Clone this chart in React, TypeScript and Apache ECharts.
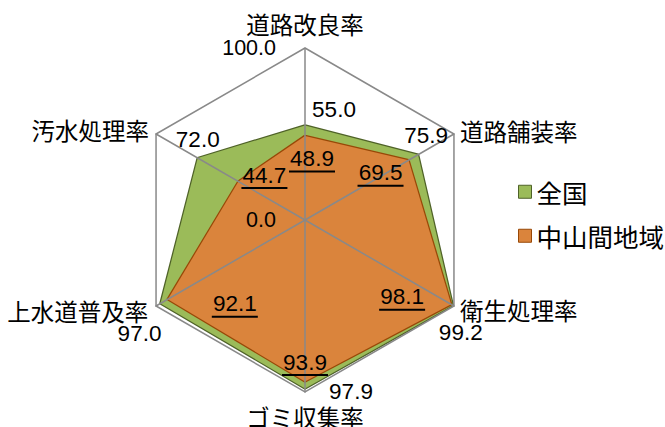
import React, { useEffect, useRef } from "react";
import * as echarts from "echarts";

// Indicators in ECharts order (top, then counter-clockwise)
const indicatorNames = ["道路改良率", "汚水処理率", "上水道普及率", "ゴミ収集率", "衛生処理率", "道路舗装率"];
const axisMin = 0;
const axisMax = 100;
const seriesNames = ["全国", "中山間地域"];
const nationalValues = [55.0, 72.0, 97.0, 97.9, 99.2, 75.9];
const mountainValues = [48.9, 44.7, 92.1, 93.9, 98.1, 69.5];

// label offsets (styling) per vertex
const nationalOffsets = [[29, -16], [0, -19], [-21, 30], [46, 3], [8, 27], [8, -19]];
const mountainOffsets = [[7, 24], [26, -5], [67, 6], [0, -18], [-49, -6], [-28, 14]];
// name placement (styling) per indicator
const nameGaps = [12.5, 8, 9, 13, 7, 7];
const namePaddings = [[0, 0, 0, 0], [0, 0, 8, 0], [10, 0, 0, 0], [0, 0, 0, 0], [4, 0, 0, 0], [0, 0, 8, 0]];

const NUM_FONT = "'Liberation Sans', Arial, sans-serif";
const CJK_FONT = "'Noto Sans CJK JP', 'Noto Sans', sans-serif";

const GREEN = "#9BBB59";
const GREEN_DARK = "#4F6228";
const ORANGE = "#DA843C";
const ORANGE_DARK = "#984807";

function areaData(values: number[], fill: string, stroke: string) {
  return [
    {
      value: values,
      symbol: "none",
      lineStyle: { color: stroke, width: 2.5 },
      areaStyle: { color: fill, opacity: 1 },
      itemStyle: { color: fill, borderColor: stroke },
      label: { show: false },
    },
  ];
}

function labelData(values: number[], offsets: number[][], underline: boolean) {
  return values.map((_, k) => ({
    value: values,
    symbol: "circle",
    symbolSize: 1,
    itemStyle: { color: "transparent", borderColor: "transparent" },
    lineStyle: { width: 0, opacity: 0 },
    label: {
      show: true,
      position: "inside",
      offset: offsets[k],
      color: "#000",
      fontFamily: NUM_FONT,
      fontSize: 22.5,
      formatter: (p: any) => {
        if (p.dimensionIndex !== k) return "";
        const t = Number(p.value).toFixed(1);
        return underline ? `{t|${t}}\n{u| }` : `{t|${t}}`;
      },
      rich: {
        t: { fontSize: 22.5, fontFamily: NUM_FONT, color: "#000", lineHeight: 23 },
        u: { width: 46, height: 2, lineHeight: 3, fontSize: 2, backgroundColor: "#000" },
      },
    },
  }));
}

export default function App() {
  const ref = useRef<HTMLDivElement>(null);
  useEffect(() => {
    if (!ref.current) return;
    const chart = echarts.init(ref.current, null, { renderer: "svg" });
    const option: any = {
      animation: false,
      backgroundColor: "#fff",
      legend: {
        orient: "vertical",
        left: 513,
        top: 174,
        itemWidth: 13,
        itemHeight: 13,
        itemGap: 18.5,
        icon: "rect",
        textStyle: { fontSize: 25.5, fontFamily: CJK_FONT, color: "#000" },
        data: [
          { name: seriesNames[0], itemStyle: { color: GREEN, borderColor: GREEN_DARK, borderWidth: 1 } },
          { name: seriesNames[1], itemStyle: { color: ORANGE, borderColor: ORANGE_DARK, borderWidth: 1 } },
        ],
      },
      radar: {
        z: 5,
        center: [305, 220],
        radius: 172,
        startAngle: 90,
        shape: "polygon",
        splitNumber: 1,
        nameGap: 10,
        axisName: { color: "#000", fontSize: 23.5, fontFamily: CJK_FONT },
        axisLine: { lineStyle: { color: "#898989", width: 1.5 } },
        splitLine: { lineStyle: { color: "#898989", width: 1.5 } },
        splitArea: { show: false },
        axisLabel: { show: false },
        indicator: indicatorNames.map((name, i) => ({
          name,
          min: axisMin,
          max: axisMax,
          nameGap: nameGaps[i],
          nameTextStyle: { padding: namePaddings[i] },
          ...(i === 0
            ? {
                axisLabel: {
                  show: true,
                  showMinLabel: true,
                  showMaxLabel: true,
                  margin: 29,
                  color: "#000",
                  fontSize: 21.5,
                  fontFamily: NUM_FONT,
                  formatter: (v: number) => Number(v).toFixed(1),
                },
              }
            : {}),
        })),
      },
      series: [
        {
          name: seriesNames[0],
          type: "radar",
          z: 2,
          itemStyle: { color: GREEN, borderColor: GREEN_DARK },
          data: areaData(nationalValues, GREEN, GREEN_DARK),
        },
        {
          name: seriesNames[1],
          type: "radar",
          z: 2,
          itemStyle: { color: ORANGE, borderColor: ORANGE_DARK },
          data: areaData(mountainValues, ORANGE, ORANGE_DARK),
        },
        {
          name: seriesNames[0],
          type: "radar",
          z: 10,
          itemStyle: { color: GREEN, borderColor: GREEN_DARK },
          data: labelData(nationalValues, nationalOffsets, false),
        },
        {
          name: seriesNames[1],
          type: "radar",
          z: 10,
          itemStyle: { color: ORANGE, borderColor: ORANGE_DARK },
          data: labelData(mountainValues, mountainOffsets, true),
        },
      ],
    };
    chart.setOption(option);
    return () => chart.dispose();
  }, []);
  return <div ref={ref} style={{ position: "absolute", left: 0, top: 0, width: 665, height: 427 }} />;
}
